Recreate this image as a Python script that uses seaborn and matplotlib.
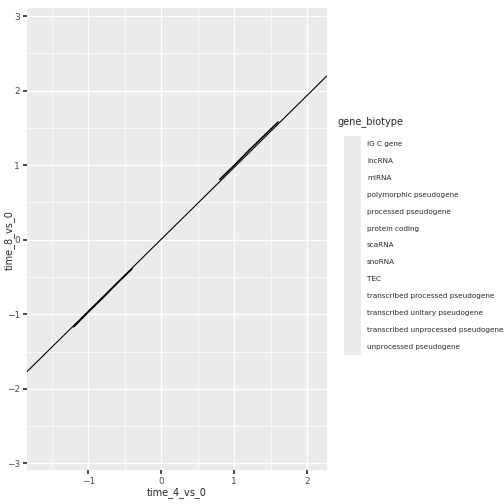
import matplotlib
matplotlib.use("Agg")
import matplotlib.pyplot as plt
import seaborn as sns
import pandas as pd

# line endpoints (y ~ x)
line_x = [-1.84, 2.27]
line_y = [-1.77, 2.20]
# denser stretches of points sitting on the line
pts_x = [-1.2, -1.0, -0.8, -0.6, -0.4, 0.8, 1.0, 1.2, 1.4, 1.6]
pts_y = [-1.17, -0.97, -0.78, -0.58, -0.39, 0.81, 1.0, 1.2, 1.39, 1.58]
biotypes = ["IG C gene", "lncRNA", "miRNA", "polymorphic pseudogene",
            "processed pseudogene", "protein coding", "scaRNA", "snoRNA", "TEC",
            "transcribed processed pseudogene", "transcribed unitary pseudogene",
            "transcribed unprocessed pseudogene", "unprocessed pseudogene"]

sns.set_theme(style="darkgrid", rc={"axes.facecolor": "#EBEBEB", "grid.color": "white"})
plt.rcParams["font.family"] = ["DejaVu Sans"]

fig = plt.figure(figsize=(5.04, 5.04), dpi=100)
ax = fig.add_axes([27 / 504, 1 - 470 / 504, 300 / 504, 462 / 504])
sns.lineplot(x=line_x, y=line_y, ax=ax, color="black", linewidth=0.8)
sns.lineplot(x=pts_x[:5], y=pts_y[:5], ax=ax, color="black", linewidth=1.1)
sns.lineplot(x=pts_x[5:], y=pts_y[5:], ax=ax, color="black", linewidth=1.1)
ax.set_xlim(-1.84, 2.27)
ax.set_ylim(-3.09, 3.11)
ax.set_xticks([-1, 0, 1, 2])
ax.set_yticks([-3, -2, -1, 0, 1, 2, 3])
ax.set_xticks([-1.5, -0.5, 0.5, 1.5], minor=True)
ax.set_yticks([-2.5, -1.5, -0.5, 0.5, 1.5, 2.5], minor=True)
ax.grid(which="major", color="white", linewidth=1.0)
ax.grid(which="minor", color="white", linewidth=0.5)
ax.tick_params(which="major", labelsize=6.5, colors="#4D4D4D", length=3, pad=2,
               left=True, bottom=True, color="#333333")
ax.tick_params(which="minor", length=0)
for s in ax.spines.values():
    s.set_visible(False)
ax.set_xlabel("")
ax.set_ylabel("")
fig.text(177 / 504, 1 - 493 / 504, "time_4_vs_0", fontsize=7, ha="center", va="center")
fig.text(9 / 504, 1 - 240 / 504, "time_8_vs_0", fontsize=7, rotation=90, ha="center", va="center")

# legend with empty grey keys
fig.text(338 / 504, 1 - 122 / 504, "gene_biotype", fontsize=7, va="center")
for i, b in enumerate(biotypes):
    yc = 144 + i * 16.9
    fig.patches.append(plt.Rectangle((344 / 504, 1 - (yc + 8.5) / 504), 17 / 504, 17 / 504,
                                     transform=fig.transFigure, facecolor="#EBEBEB", edgecolor="none"))
    fig.text(367 / 504, 1 - yc / 504, b, fontsize=5.2, va="center")

fig.savefig("out.png", dpi=100)
